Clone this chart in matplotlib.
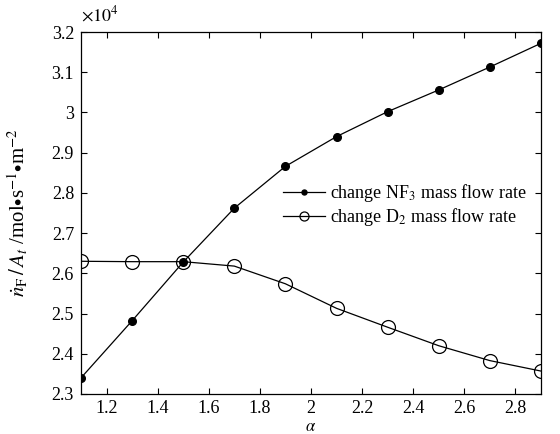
import matplotlib.pyplot as plt
from matplotlib.ticker import FuncFormatter

plt.rcParams['font.family'] = ['Liberation Serif', 'DejaVu Serif']
plt.rcParams['mathtext.fontset'] = 'stix'

# data (values in mol/(s*m^2))
alpha = [1.1, 1.3, 1.5, 1.7, 1.9, 2.1, 2.3, 2.5, 2.7, 2.9]
nf3_flow = [23400, 24820, 26280, 27620, 28660, 29400, 30020, 30560, 31130, 31720]
d2_flow = [26300, 26290, 26290, 26180, 25740, 25130, 24660, 24200, 23830, 23570]

fig = plt.figure(figsize=(5.6, 4.34), dpi=100)
ax = fig.add_axes([0.1446, 0.0922, 0.8214, 0.834])

ax.plot(alpha, nf3_flow, color='black', lw=0.9, marker='o', ms=5.5,
        mfc='black', mec='black', label='change NF$_3$ mass flow rate')
ax.plot(alpha, d2_flow, color='black', lw=0.9, marker='o', ms=10,
        mfc='none', mec='black', mew=0.9, label='change D$_2$ mass flow rate')

ax.set_xlim(1.1, 2.9)
ax.set_ylim(23000, 32000)
ax.set_xticks([1.2, 1.4, 1.6, 1.8, 2.0, 2.2, 2.4, 2.6, 2.8])
ax.set_yticks([23000 + 1000 * i for i in range(10)])
ax.xaxis.set_major_formatter(FuncFormatter(lambda v, p: '%g' % round(v, 1)))
ax.yaxis.set_major_formatter(FuncFormatter(lambda v, p: '%g' % round(v / 1e4, 1)))
ax.tick_params(direction='in', top=True, right=True, labelsize=13, length=4, width=0.8, pad=5)
ax.tick_params(axis='x', pad=4)
for s in ax.spines.values():
    s.set_linewidth(0.9)

ax.text(0.0, 1.02, r'$\times 10^4$', transform=ax.transAxes, fontsize=13, ha='left', va='bottom')
ax.set_xlabel(r'$\alpha$', fontsize=12, labelpad=0)
ax.xaxis.set_label_coords(0.5, -0.07)
ax.set_ylabel(r'$\dot{n}_\mathrm{F}\,/\,A_t$ /mol$\bullet$s$^{-1}$$\bullet$m$^{-2}$', fontsize=15)
ax.yaxis.set_label_coords(-0.11, 0.5)

ax.legend(loc='center left', bbox_to_anchor=(274 / 560, 1 - 205 / 434), bbox_transform=fig.transFigure,
          frameon=False, fontsize=13, borderpad=0, markerscale=0.65,
          handlelength=2.3, handletextpad=0.3, labelspacing=0.1)

plt.savefig('out.png', dpi=100)
